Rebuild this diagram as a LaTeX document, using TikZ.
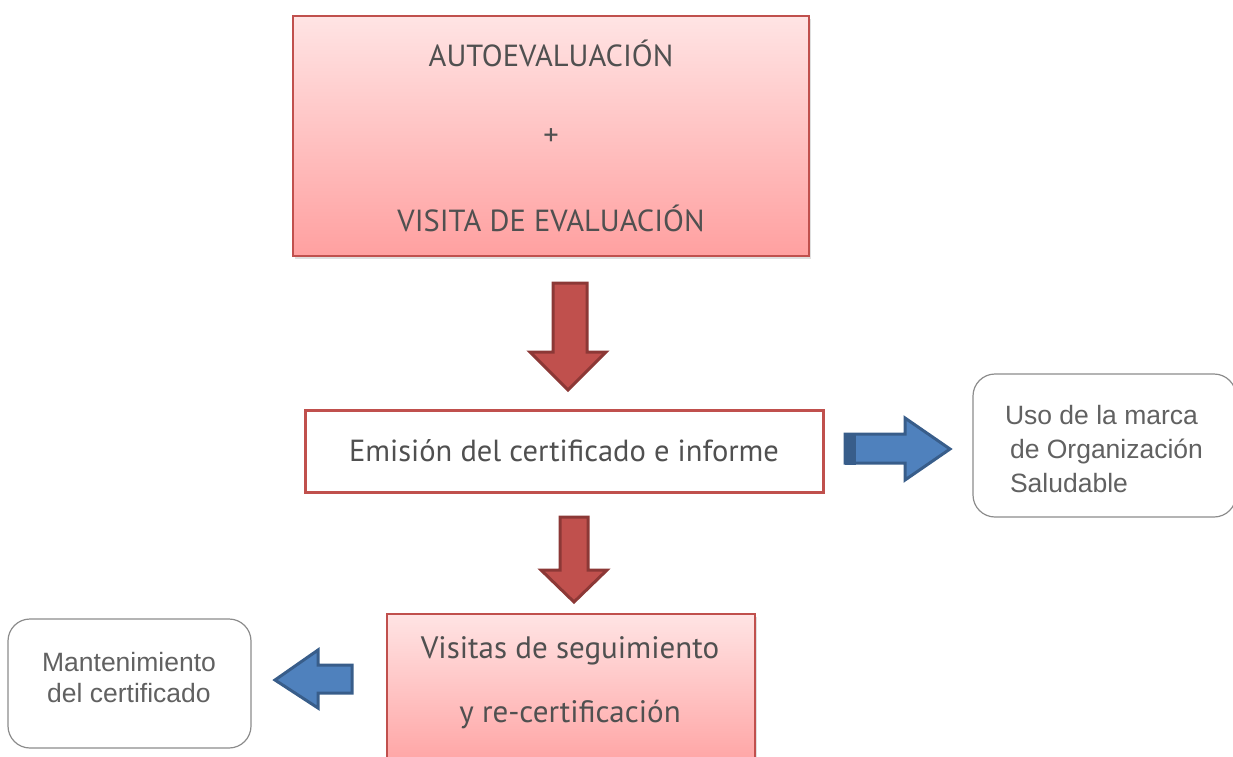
\documentclass[tikz,border=0pt]{standalone}
\usepackage{fontspec}
\setmainfont{PT Sans}
\newfontfamily\arialfont{Liberation Sans}
\usetikzlibrary{shadows}
\definecolor{boxred}{HTML}{C0504D}
\definecolor{darkred}{HTML}{8C3836}
\definecolor{arrblue}{HTML}{4F81BD}
\definecolor{blueedge}{HTML}{385D8A}
\definecolor{txtgray}{HTML}{505050}
\definecolor{pinktop}{HTML}{FFE4E4}
\definecolor{pinkbot}{HTML}{FFA0A0}
\tikzset{
  pinkbox/.style={draw=boxred, line width=1.5pt, top color=pinktop, bottom color=pinkbot,
    drop shadow={opacity=0.25, shadow xshift=2pt, shadow yshift=-3pt}},
  roundbox/.style={draw=gray!90, line width=1.2pt, rounded corners=22pt, fill=white},
  redarrow/.style={fill=boxred, draw=darkred, line width=3pt, line join=miter},
  bluearrow/.style={fill=arrblue, draw=blueedge, line width=3pt, line join=miter},
  maintxt/.style={text=txtgray, font=\fontsize{30.5}{36}\selectfont},
  sidetxt/.style={text=txtgray!90, font=\arialfont\fontsize{26.5}{34}\selectfont}
}
\begin{document}
\begin{tikzpicture}[x=1pt,y=-1pt]
  \useasboundingbox (0,0) rectangle (1233,756);
  % top box
  \node[pinkbox, minimum width=516pt, minimum height=240pt] (evaluacion) at (551,136) {};
  \node[maintxt] (auto) at (551,53) {AUTOEVALUACIÓN};
  \node[maintxt] (mas) at (551,137) {+};
  \node[maintxt] (visita) at (551,218) {VISITA DE EVALUACIÓN};
  \draw[redarrow] (553,283)--(587,283)--(587,352)--(606,352)--(568,390)--(530,352)--(553,352)--cycle;
  % certificate box
  \node[draw=boxred, line width=3pt, fill=white, minimum width=518pt, minimum height=82pt, maintxt] (emision) at (564,451) {Emisión del certificado e informe};
  \draw[bluearrow] (845,434)--(905,434)--(905,418)--(950,449)--(905,480)--(905,463)--(845,463)--cycle;
  \fill[blueedge] (845,432.5) rectangle (856,464.5);
  \node[roundbox, minimum width=263pt, minimum height=143pt] (uso) at (1104.5,445.5) {};
  \node[sidetxt, align=left] (usotxt) at (1104,449) {Uso de la marca\\ \hspace*{5pt}de Organización\\ \hspace*{5pt}Saludable};
  % follow-up
  \draw[redarrow] (560,517)--(588,517)--(588,570)--(607,570)--(574,602)--(541,570)--(560,570)--cycle;
  \node[pinkbox, minimum width=368pt, minimum height=160pt] (visitas) at (571,694) {};
  \node[maintxt, font=\fontsize{31}{36}\selectfont] (seguimiento) at (570,651) {Visitas de seguimiento};
  \node[maintxt, font=\fontsize{31}{36}\selectfont] (recert) at (570,715) {y re-certificación};
  \draw[bluearrow] (352,665)--(318,665)--(318,650)--(275,680)--(318,708)--(318,693)--(352,693)--cycle;
  \node[roundbox, minimum width=243pt, minimum height=129pt] (mantenimiento) at (129.5,683.5) {};
  \node[sidetxt, align=center, font=\arialfont\fontsize{26.5}{31}\selectfont] (manttxt) at (129,678) {Mantenimiento\\del certificado};
\end{tikzpicture}
\end{document}
